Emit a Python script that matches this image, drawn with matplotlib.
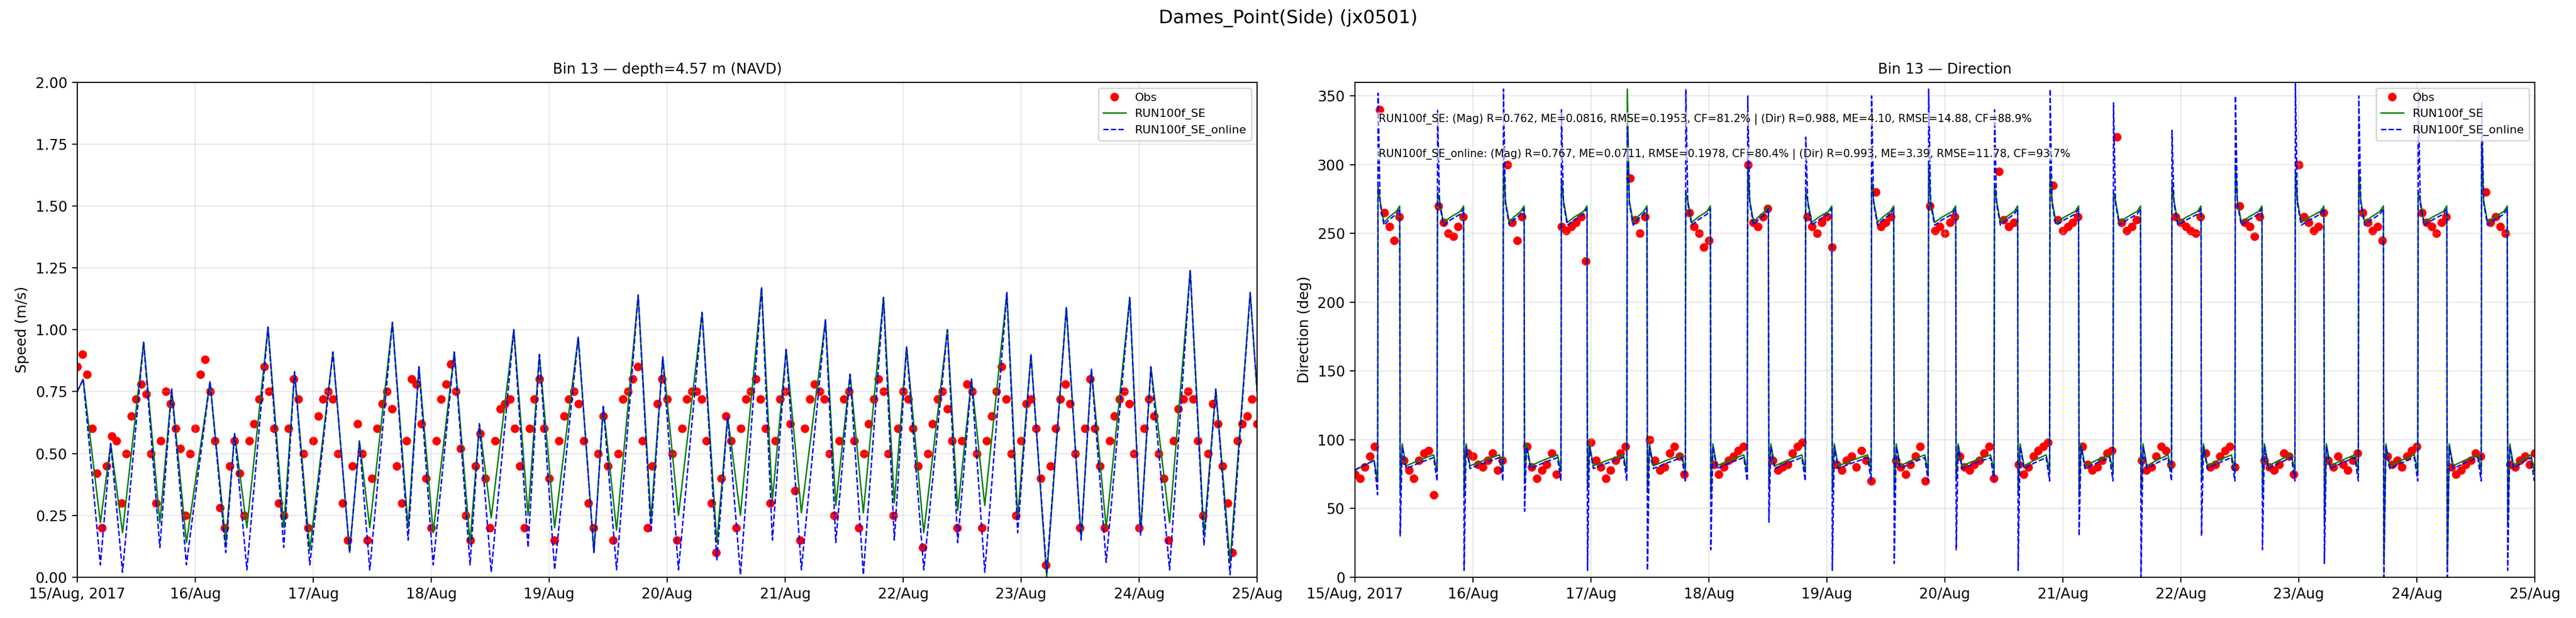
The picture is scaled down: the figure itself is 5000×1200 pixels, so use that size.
import matplotlib.pyplot as plt
import numpy as np
import datetime as dt

def speed_dir_comp():
    #time origin 15/Aug/2017 00:00, all times in hours
    t0=dt.datetime(2017,8,15)
    #speed peaks (hour, value) - same for both runs
    peaks=[(0,0.75),(1.2,0.80),(6.8,0.54),(13.5,0.95),(19.2,0.76),(27,0.79),(32,0.58),(38.8,1.01),(44.2,0.83),
           (52,0.91),(57.4,0.55),(64.1,1.03),(69.5,0.85),(76.7,0.91),(81.8,0.62),(88.8,1.0),(94,0.9),(101.9,0.97),
           (107,0.69),(114.1,1.14),(119.1,0.89),(127.1,1.07),(132.3,0.65),(139.2,1.17),(144.2,0.92),(152.2,1.04),
           (157.2,0.82),(164,1.13),(168.7,0.93),(177,1.0),(181.9,0.8),(189.1,1.15),(194,0.9),(201.2,1.09),
           (206.3,0.84),(214.1,1.13),(218.4,0.85),(226.4,1.24),(231.6,0.76),(238.6,1.15),(240,0.75)]
    #slack water (hour, RUN100f_SE, RUN100f_SE_online)
    troughs=[(4.7,0.22,0.05),(9.2,0.18,0.02),(16.8,0.22,0.12),(22.2,0.14,0.05),(30.2,0.14,0.10),(34.5,0.20,0.03),
             (42,0.20,0.12),(47.3,0.11,0.05),(55.4,0.10,0.10),(59.5,0.20,0.03),(67.3,0.20,0.15),(72.4,0.18,0.05),
             (79.9,0.14,0.05),(84.2,0.24,0.02),(91.7,0.25,0.12),(97.1,0.20,0.03),(105.1,0.10,0.10),(109.7,0.19,0.03),
             (116.7,0.23,0.18),(122.3,0.25,0.03),(130.1,0.14,0.07),(134.9,0.25,0.01),(141.4,0.31,0.15),(147.3,0.26,0.03),
             (154.3,0.29,0.14),(159.9,0.26,0.01),(166.2,0.30,0.15),(172.2,0.18,0.03),(179.1,0.27,0.14),(184.6,0.29,0.02),
             (191.3,0.24,0.18),(197.2,0.0,0.02),(204.2,0.16,0.15),(209.3,0.20,0.06),(216.3,0.18,0.17),(222.2,0.22,0.03),
             (229.2,0.17,0.13),(234.5,0.06,0.01)]
    #hourly obs speed (m/s)
    obs_spd=[0.85,0.9,0.82,0.6,0.42,0.2,0.45,0.57,0.55,0.3,0.5,0.65,0.72,0.78,0.74,0.5,0.3,0.55,0.75,0.7,0.6,0.52,0.25,0.5,
             0.6,0.82,0.88,0.75,0.55,0.28,0.2,0.45,0.55,0.42,0.25,0.55,0.62,0.72,0.85,0.75,0.6,0.3,0.25,0.6,0.8,0.72,0.5,0.2,
             0.55,0.65,0.72,0.75,0.72,0.5,0.3,0.15,0.45,0.62,0.5,0.15,0.4,0.6,0.7,0.75,0.68,0.45,0.3,0.55,0.8,0.78,0.62,0.4,
             0.2,0.55,0.72,0.78,0.86,0.75,0.52,0.25,0.15,0.45,0.58,0.4,0.2,0.55,0.68,0.7,0.72,0.6,0.45,0.2,0.6,0.72,0.8,0.6,
             0.4,0.15,0.55,0.65,0.72,0.75,0.7,0.55,0.3,0.2,0.5,0.65,0.45,0.15,0.5,0.72,0.75,0.8,0.85,0.55,0.2,0.45,0.7,0.8,
             0.72,0.5,0.15,0.6,0.72,0.75,0.75,0.72,0.55,0.3,0.1,0.4,0.65,0.55,0.2,0.6,0.72,0.75,0.8,0.72,0.6,0.3,0.55,0.72,
             0.75,0.62,0.35,0.15,0.6,0.72,0.78,0.75,0.72,0.5,0.25,0.55,0.72,0.75,0.55,0.2,0.5,0.62,0.72,0.8,0.75,0.5,0.25,0.6,
             0.75,0.72,0.6,0.45,0.12,0.5,0.62,0.72,0.75,0.68,0.55,0.2,0.55,0.78,0.75,0.5,0.2,0.55,0.65,0.75,0.85,0.72,0.5,0.25,
             0.55,0.7,0.72,0.6,0.4,0.05,0.45,0.6,0.72,0.78,0.7,0.5,0.2,0.6,0.8,0.6,0.45,0.2,0.55,0.65,0.72,0.75,0.7,0.5,
             0.2,0.6,0.72,0.65,0.5,0.4,0.15,0.55,0.68,0.72,0.75,0.72,0.55,0.25,0.5,0.7,0.62,0.45,0.3,0.1,0.55,0.62,0.65,0.72,0.62]
    #hourly obs direction (deg)
    obs_dir=[75,72,80,88,95,340,265,255,245,262,85,78,72,85,90,92,60,270,258,250,248,255,262,90,
             88,82,80,85,90,78,85,300,258,245,262,95,80,72,78,82,90,75,255,252,255,258,262,230,
             98,85,80,72,78,85,90,95,290,260,250,262,100,85,78,80,90,95,88,75,265,255,250,240,
             245,82,75,80,85,88,92,95,300,258,255,262,268,85,78,80,82,90,95,98,262,255,250,258,
             262,240,82,78,85,88,80,92,85,70,280,255,258,262,85,80,75,82,88,95,70,270,252,255,
             250,258,262,88,80,78,82,85,90,95,72,295,260,255,258,82,75,80,88,92,95,98,285,260,
             252,255,258,262,95,82,78,80,85,90,92,320,258,252,255,260,85,78,80,88,95,92,82,262,
             258,255,252,250,262,90,80,82,88,92,95,80,270,258,255,248,262,85,80,78,82,90,88,75,
             300,262,258,252,255,265,85,80,88,82,78,85,90,265,258,252,255,245,88,82,85,80,88,92,95,
             265,258,255,250,258,262,80,75,78,82,85,90,88,280,258,262,255,250,82,80,85,88,82,90]
    #direction spikes at each switch (RUN100f_SE, RUN100f_SE_online)
    spikes=[(285,352),(62,30),(280,340),(60,5),(300,355),(70,48),(290,340),(65,5),(355,330),(62,5),(280,355),(60,20),
            (300,350),(65,40),(280,320),(62,5),(290,350),(60,10),(300,355),(70,20),(285,340),(62,5),(295,355),(60,30),
            (280,345),(60,0),(285,325),(70,30),(300,350),(60,20),(295,360),(40,10),(295,350),(10,0),(280,355),(5,0),
            (320,345),(40,5)]
    hi_lvl=262 #ebb
    lo_lvl=85 #flood

    pt=np.array([p[0] for p in peaks]+[tr[0] for tr in troughs])
    order=np.argsort(pt)
    pt=pt[order]
    g_spd=np.array([p[1] for p in peaks]+[tr[1] for tr in troughs])[order]
    b_spd=np.array([p[1] for p in peaks]+[tr[2] for tr in troughs])[order]
    t_spd=[t0+dt.timedelta(hours=float(h)) for h in pt]
    t_obs=[t0+dt.timedelta(hours=h) for h in range(len(obs_spd))]
    t_obd=[t0+dt.timedelta(hours=h) for h in range(len(obs_dir))]

    #direction model, phase by phase between slack waters
    sw=[0]+[tr[0] for tr in troughs]+[240]
    gx,gy,bx,by=[],[],[],[]
    for i in range(len(sw)-1):
        a,b=sw[i],sw[i+1]
        lvl=hi_lvl if i%2==1 else lo_lvl
        if i==0:
            hs=[a,b-0.8,b-0.1]; gv=[78,85,70]; bv=[78,85,60]
        else:
            gs,bs=spikes[i-1]
            hs=[a,a+0.4,a+1.2,(a+b)/2,b-0.8,b-0.1]
            gv=[gs,lvl+12,lvl-4,lvl,lvl+4,lvl-8 if lvl<100 else lvl+8]
            bv=[bs,lvl+10,lvl-6,lvl-2,lvl+2,lvl-15 if lvl<100 else lvl+6]
        gx+=hs; gy+=gv; bx+=hs; by+=bv
    gx=[t0+dt.timedelta(hours=h) for h in gx]
    bx=[t0+dt.timedelta(hours=h) for h in bx]

    days=[t0+dt.timedelta(days=d) for d in range(11)]
    dlab=['15/Aug, 2017']+[d.strftime('%d/%b') for d in days[1:]]

    plt.figure(figsize=(25,6),dpi=200)
    #SPEED
    plt.axes([0.030,0.066,0.458,0.801])
    plt.plot(t_obs,obs_spd,'o',color='red',markersize=5,label='Obs',zorder=1)
    plt.plot(t_spd,g_spd,'-',color='green',linewidth=1,label='RUN100f_SE')
    plt.plot(t_spd,b_spd,'--',color='blue',linewidth=1,label='RUN100f_SE_online')
    plt.ylim(0,2)
    plt.xlim(days[0],days[-1])
    plt.xticks(days,dlab,fontsize=10)
    plt.yticks(np.arange(0,2.01,0.25),fontsize=10)
    plt.ylabel('Speed (m/s)',fontsize=10)
    plt.title('Bin 13 \u2014 depth=4.57 m (NAVD)',fontsize=10)
    plt.grid(alpha=0.3)
    plt.legend(loc='upper right',fontsize=8)
    #DIRECTION
    plt.axes([0.526,0.066,0.458,0.801])
    plt.plot(t_obd,obs_dir,'o',color='red',markersize=5,label='Obs',zorder=1)
    plt.plot(gx,gy,'-',color='green',linewidth=1,label='RUN100f_SE')
    plt.plot(bx,by,'--',color='blue',linewidth=1,label='RUN100f_SE_online')
    plt.ylim(0,360)
    plt.xlim(days[0],days[-1])
    plt.xticks(days,dlab,fontsize=10)
    plt.yticks(np.arange(0,351,50),fontsize=10)
    plt.ylabel('Direction (deg)',fontsize=10)
    plt.title('Bin 13 \u2014 Direction',fontsize=10)
    plt.grid(alpha=0.3)
    plt.legend(loc='upper right',fontsize=8)
    box=dict(facecolor='white',edgecolor='none',alpha=0.6,pad=1)
    plt.text(0.02,0.925,'RUN100f_SE: (Mag) R=0.762, ME=0.0816, RMSE=0.1953, CF=81.2% | (Dir) R=0.988, ME=4.10, RMSE=14.88, CF=88.9%',
             transform=plt.gca().transAxes,fontsize=7.5,va='center',bbox=box)
    plt.text(0.02,0.855,'RUN100f_SE_online: (Mag) R=0.767, ME=0.0711, RMSE=0.1978, CF=80.4% | (Dir) R=0.993, ME=3.39, RMSE=11.78, CF=93.7%',
             transform=plt.gca().transAxes,fontsize=7.5,va='center',bbox=box)
    plt.suptitle('Dames_Point(Side) (jx0501)',fontsize=13,y=0.985)
    plt.savefig('out.png')
speed_dir_comp()
